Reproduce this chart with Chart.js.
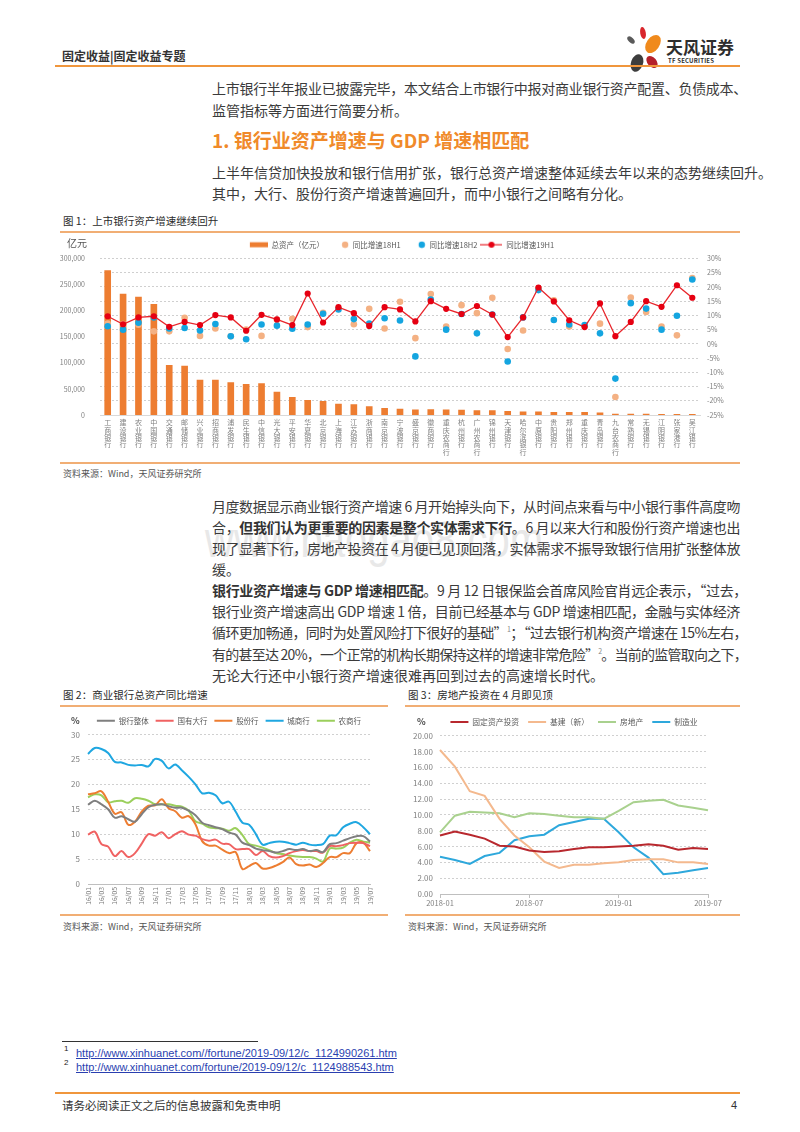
<!DOCTYPE html>
<html lang="zh-CN">
<head>
<meta charset="utf-8">
<title>上市银行资产增速继续回升</title>
<script src="https://cdn.jsdelivr.net/npm/chart.js@4.4.1/dist/chart.umd.min.js"></script>
<style>
  html, body { margin: 0; padding: 0; background: #fff; }
  body { width: 800px; height: 1132px; position: relative; overflow: hidden;
         font-family: "Noto Sans CJK SC", "Noto Sans", sans-serif; color: #333; }
  .t { position: absolute; white-space: nowrap; line-height: 20px; }
  .body { left: 212px; font-size: 14px; color: #3b3b3b; }
  .full { text-align: justify; text-align-last: justify; }
  .body b { color: #333; }
  .rule { position: absolute; }
  .cap { position: absolute; font-size: 10.5px; color: #2b2b2b; line-height: 14px; white-space: nowrap; }
  .src { position: absolute; font-size: 9px; color: #555; line-height: 12px; white-space: nowrap; }
  .box { position: absolute; }
  .unit { position: absolute; font-size: 9px; color: #555; line-height: 12px; }
  sup { font-size: 7px; color: #888; vertical-align: 6px; line-height: 0; }
  .fn { position: absolute; left: 76px; font-family: "Liberation Sans", Arial, sans-serif; font-size: 11px;
        color: #2a3fb0; text-decoration: underline; line-height: 14px; white-space: nowrap; }
  .fnno { position: absolute; left: 64px; font-family: "Liberation Sans", Arial, sans-serif; font-size: 8px; color: #222; }
</style>
</head>
<body>

<!-- 页眉 -->
<div class="t" style="left:62px;top:46px;font-size:12px;font-weight:bold;color:#333;">固定收益|固定收益专题</div>
<svg class="box" style="left:622px;top:24px" width="44" height="52" viewBox="0 0 44 52">
  <ellipse cx="21" cy="9" rx="2.8" ry="6" fill="#d9262c" transform="rotate(-10 21 9)"/>
  <ellipse cx="9" cy="16" rx="2.6" ry="4.5" fill="#5a5a5a" transform="rotate(-45 9 16)"/>
  <ellipse cx="31" cy="20" rx="6.5" ry="10" fill="#f08a1c" transform="rotate(35 31 20)"/>
  <ellipse cx="15" cy="39" rx="6" ry="9" fill="#3d3d3d" transform="rotate(20 15 39)"/>
  <ellipse cx="30" cy="38" rx="4.5" ry="7" fill="#b5202a" transform="rotate(-40 30 38)"/>
</svg>
<div class="t" style="left:666px;top:37px;font-size:17px;font-weight:bold;color:#2e2e2e;">天风证券</div>
<div class="t" style="left:668px;top:51px;font-size:6px;font-weight:bold;color:#2e2e2e;letter-spacing:0.2px;">TF SECURITIES</div>
<div class="rule" style="left:55px;top:65px;width:685px;height:2px;background:#f0963c;"></div>

<!-- 正文 -->
<div class="t body full" style="top:78px;">上市银行半年报业已披露完毕，本文结合上市银行中报对商业银行资产配置、负债成本、</div>
<div class="t body" style="top:100px;">监管指标等方面进行简要分析。</div>
<div class="t" style="left:212px;top:128px;font-size:19px;line-height:24px;font-weight:bold;color:#f08a2a;">1. 银行业资产增速与 GDP 增速相匹配</div>
<div class="t body" style="top:162px;">上半年信贷加快投放和银行信用扩张，银行总资产增速整体延续去年以来的态势继续回升。</div>
<div class="t body" style="top:183px;">其中，大行、股份行资产增速普遍回升，而中小银行之间略有分化。</div>

<!-- 图1 -->
<div class="cap" style="left:63px;top:214px;">图 1：上市银行资产增速继续回升</div>
<div class="rule" style="left:60px;top:231px;width:680px;height:1.5px;background:#f1ae74;"></div>
<div class="box" style="left:60px;top:234px;width:680px;height:228px;"><canvas id="c1" width="680" height="228"></canvas></div>
<div class="unit" style="left:67px;top:237px;font-size:10px;">亿元</div>
<div class="rule" style="left:60px;top:462px;width:680px;height:1.5px;background:#f1ae74;"></div>
<div class="src" style="left:63px;top:468px;">资料来源：Wind，天风证券研究所</div>

<!-- 水印 -->
<div class="t" style="left:205px;top:512px;font-family:'Liberation Sans',sans-serif;font-size:50px;line-height:56px;color:#e8e8e8;transform:scaleX(0.8);transform-origin:left top;">www.baogao8.com</div>

<div class="t body full" style="top:496px;">月度数据显示商业银行资产增速 6 月开始掉头向下，从时间点来看与中小银行事件高度吻</div>
<div class="t body full" style="top:517px;">合，<b>但我们认为更重要的因素是整个实体需求下行</b>。6 月以来大行和股份行资产增速也出</div>
<div class="t body full" style="top:538px;">现了显著下行，房地产投资在 4 月便已见顶回落，实体需求不振导致银行信用扩张整体放</div>
<div class="t body" style="top:559px;">缓。</div>

<div class="t body full" style="top:580px;"><b>银行业资产增速与 GDP 增速相匹配</b>。9 月 12 日银保监会首席风险官肖远企表示，“过去，</div>
<div class="t body full" style="top:601px;">银行业资产增速高出 GDP 增速 1 倍，目前已经基本与 GDP 增速相匹配，金融与实体经济</div>
<div class="t body full" style="top:622px;">循环更加畅通，同时为处置风险打下很好的基础”<sup>1</sup>；“过去银行机构资产增速在 15%左右，</div>
<div class="t body full" style="top:644px;">有的甚至达 20%，一个正常的机构长期保持这样的增速非常危险”<sup>2</sup>。当前的监管取向之下，</div>
<div class="t body" style="top:665px;">无论大行还中小银行资产增速很难再回到过去的高速增长时代。</div>

<!-- 图2 图3 -->
<div class="cap" style="left:63px;top:688px;">图 2：商业银行总资产同比增速</div>
<div class="rule" style="left:60px;top:705px;width:328px;height:1.5px;background:#f1ae74;"></div>
<div class="cap" style="left:408px;top:688px;">图 3：房地产投资在 4 月即见顶</div>
<div class="rule" style="left:405px;top:705px;width:335px;height:1.5px;background:#f1ae74;"></div>

<div class="box" style="left:60px;top:708px;width:330px;height:204px;"><canvas id="c2" width="330" height="204"></canvas></div>
<div class="unit" style="left:71px;top:715px;font-size:9px;font-weight:bold;color:#444;">%</div>
<div class="box" style="left:400px;top:708px;width:340px;height:200px;"><canvas id="c3" width="340" height="200"></canvas></div>
<div class="unit" style="left:417px;top:716px;font-size:9px;font-weight:bold;color:#444;">%</div>

<div class="rule" style="left:60px;top:914px;width:328px;height:1.5px;background:#f1ae74;"></div>
<div class="rule" style="left:405px;top:914px;width:335px;height:1.5px;background:#f1ae74;"></div>
<div class="src" style="left:63px;top:921px;">资料来源：Wind，天风证券研究所</div>
<div class="src" style="left:408px;top:921px;">资料来源：Wind，天风证券研究所</div>

<!-- 脚注 -->
<div class="rule" style="left:62px;top:1041px;width:196px;height:1px;background:#333;"></div>
<div class="fnno" style="top:1044px;">1</div>
<div class="fn" style="top:1046px;">http://www.xinhuanet.com//fortune/2019-09/12/c_1124990261.htm</div>
<div class="fnno" style="top:1058px;">2</div>
<div class="fn" style="top:1060px;">http://www.xinhuanet.com/fortune/2019-09/12/c_1124988543.htm</div>

<!-- 页脚 -->
<div class="rule" style="left:55px;top:1092px;width:685px;height:2px;background:#f0963c;"></div>
<div class="t" style="left:62px;top:1095px;font-size:11.5px;color:#333;">请务必阅读正文之后的信息披露和免责申明</div>
<div class="t" style="left:731px;top:1095px;font-size:11px;color:#333;font-family:'Liberation Sans',sans-serif;">4</div>

<script>
// 两端对齐的整行：超出版心时略收紧字距
document.querySelectorAll('.full').forEach(el => {
  const txt = el.textContent.trim();
  const target = '，、。；'.includes(txt.slice(-1)) ? 535 : 528;
  const natural = el.getBoundingClientRect().width;
  if (natural > target) el.style.letterSpacing = ((target - natural) / txt.length) + 'px';
  el.style.width = target + 'px';
});

// 图1：上市银行总资产与同比增速
const banks = ['工商银行', '建设银行', '农业银行', '中国银行', '交通银行', '邮储银行', '兴业银行', '招商银行',
  '浦发银行', '民生银行', '中信银行', '光大银行', '平安银行', '华夏银行', '北京银行', '上海银行', '江苏银行',
  '浙商银行', '南京银行', '宁波银行', '盛京银行', '徽商银行', '重庆农商行', '杭州银行', '广州农商行', '锦州银行',
  '天津银行', '哈尔滨银行', '中原银行', '贵阳银行', '郑州银行', '重庆银行', '青岛银行', '九台农商行', '常熟银行',
  '无锡银行', '江阴银行', '张家港行', '吴江银行'];
const totalAssets = [277000, 232000, 226000, 212000, 95000, 94000, 67000, 67000, 62000, 59000, 60000, 44000,
  34000, 28000, 26000, 21000, 20000, 16000, 13000, 11500, 10000, 10500, 10000, 9500, 8500, 8500, 6900, 6000,
  6000, 5300, 5300, 4900, 4000, 2000, 1800, 1700, 1300, 1300, 1200];
const growth18H1 = [7.1, 7.0, 6.7, 4.4, 4.4, 9.2, 2.8, 5.4, 2.7, 5.0, 2.8, 8.5, 8.8, 5.9, 10.9, 12.5, 6.9,
  12.3, 5.4, 14.8, 2.0, 17.5, 6.1, 13.6, 10.8, 16.2, -1.8, 4.7, 19.5, 15.3, 6.1, 6.2, 7.1, -18.7, 16.3, 11.2,
  6.1, 3.0, 23.1];
const growth18H2 = [6.2, 5.0, 7.4, 9.3, 5.4, 5.6, 4.7, 7.0, 2.7, 1.6, 6.8, 6.4, 5.3, 6.8, 10.6, 12.1, 8.7,
  7.1, 9.0, 8.2, -4.4, 15.6, 5.0, 10.5, 3.7, 10.3, -6.2, 9.3, 18.9, 8.4, 6.8, 6.6, 3.7, -12.2, 14.3, 12.4,
  5.0, 9.9, 22.6];
const growth19H1 = [9.7, 6.9, 9.3, 9.7, 6.0, 7.7, 6.6, 10.1, 9.3, 4.6, 10.2, 8.6, 6.6, 17.7, 7.5, 12.9, 10.8,
  6.3, 12.9, 12.1, 7.9, 15.0, 12.3, 10.5, 13.3, 10.3, 2.4, 9.3, 19.8, 14.9, 8.3, 5.9, 14.2, 2.7, 7.7, 15.0,
  13.0, 20.6, 16.2];

// 图2：商业银行总资产同比增速（%）
const months2 = ['16/01', '16/02', '16/03', '16/04', '16/05', '16/06', '16/07', '16/08', '16/09', '16/10',
  '16/11', '16/12', '17/01', '17/02', '17/03', '17/04', '17/05', '17/06', '17/07', '17/08', '17/09', '17/10',
  '17/11', '17/12', '18/01', '18/02', '18/03', '18/04', '18/05', '18/06', '18/07', '18/08', '18/09', '18/10',
  '18/11', '18/12', '19/01', '19/02', '19/03', '19/04', '19/05', '19/06', '19/07'];
const bankAll = [15.9, 16.7, 16.0, 15.0, 13.3, 13.6, 13.0, 12.5, 14.0, 15.4, 15.9, 16.0, 15.6, 15.3, 15.3, 14.7,
  13.8, 12.3, 11.8, 11.4, 11.0, 10.3, 9.9, 8.3, 7.8, 7.1, 6.8, 6.6, 6.3, 6.6, 7.0, 6.8, 7.0, 6.6, 6.8, 6.4,
  8.0, 8.2, 8.7, 9.2, 9.6, 9.6, 8.5];
const bigBanks = [9.9, 10.5, 8.0, 7.5, 5.6, 6.6, 5.4, 6.2, 8.1, 10.0, 9.7, 10.4, 9.2, 10.0, 10.6, 9.9, 9.7, 9.0,
  8.7, 8.9, 8.1, 8.0, 7.0, 7.0, 7.0, 5.8, 6.6, 5.6, 5.3, 5.6, 6.2, 6.6, 6.8, 6.6, 6.6, 6.3, 7.6, 7.6, 7.8, 8.2,
  8.3, 8.2, 7.6];
const jointStock = [18.0, 18.2, 18.6, 16.5, 14.1, 14.4, 11.9, 12.5, 14.5, 15.7, 15.8, 17.0, 15.2, 14.6, 13.3,
  13.6, 12.0, 8.6, 7.7, 7.7, 6.9, 6.2, 6.4, 3.0, 3.6, 4.2, 3.1, 3.2, 3.7, 4.4, 5.3, 4.0, 3.7, 3.9, 3.4, 4.2,
  5.4, 5.4, 6.2, 6.2, 8.2, 8.3, 6.6];
const cityBanks = [26.1, 27.3, 27.1, 26.3, 24.5, 24.4, 23.9, 23.8, 23.9, 23.6, 25.1, 24.7, 23.2, 24.0, 22.8,
  21.5, 20.0, 18.2, 18.3, 17.8, 16.2, 16.5, 14.5, 12.3, 11.9, 10.0, 7.9, 8.2, 8.5, 8.5, 8.2, 7.9, 8.3, 7.9,
  7.8, 8.0, 9.7, 9.8, 11.4, 12.1, 12.4, 11.4, 10.0];
const ruralBanks = [17.4, 18.0, 17.8, 16.4, 16.6, 16.7, 16.3, 17.2, 17.1, 16.7, 16.0, 16.0, 16.0, 15.7, 15.5,
  14.7, 12.6, 12.1, 11.4, 11.2, 11.1, 10.7, 11.2, 9.8, 8.0, 7.7, 7.3, 6.8, 6.2, 6.0, 5.7, 5.5, 5.4, 5.4, 5.1,
  4.5, 7.1, 7.1, 7.3, 8.3, 8.9, 8.5, 8.3];

// 图3：投资累计同比（%）
const months3 = ['2018-01', '2018-02', '2018-03', '2018-04', '2018-05', '2018-06', '2018-07', '2018-08',
  '2018-09', '2018-10', '2018-11', '2018-12', '2019-01', '2019-02', '2019-03', '2019-04', '2019-05', '2019-06',
  '2019-07'];
const fixedInvest = [7.4, 7.9, 7.5, 7.0, 6.1, 6.0, 5.5, 5.3, 5.4, 5.7, 5.9, 5.9, 6.0, 6.1, 6.3, 6.1, 5.6, 5.8, 5.7];
const infraNew = [18.2, 16.1, 13.0, 12.4, 9.5, 7.4, 5.9, 4.1, 3.3, 3.7, 3.7, 3.9, 4.0, 4.3, 4.4, 4.4, 4.0, 4.0, 3.8];
const realEstate = [7.8, 9.9, 10.4, 10.3, 10.2, 9.7, 10.2, 10.1, 9.9, 9.7, 9.7, 9.5, 10.5, 11.6, 11.8, 11.9, 11.2, 10.9, 10.6];
const manufacturing = [4.7, 4.3, 3.8, 4.8, 5.2, 6.8, 7.3, 7.5, 8.7, 9.1, 9.5, 9.5, 7.8, 5.9, 4.6, 2.5, 2.7, 3.0, 3.3];

Chart.defaults.font.family = '"Noto Sans CJK SC", "Liberation Sans", sans-serif';
Chart.defaults.color = '#7f7f7f';
Chart.defaults.animation = false;

// 图例小图标
function icon(draw) {
  const c = document.createElement('canvas');
  c.width = 22; c.height = 8;
  draw(c.getContext('2d'));
  return c;
}
function dot(color) {
  return icon(g => { g.fillStyle = color; g.beginPath(); g.arc(18, 4, 3.2, 0, Math.PI * 2); g.fill(); });
}
const legendIcons = [
  icon(g => { g.fillStyle = '#ed7d31'; g.fillRect(4, 1.5, 18, 5); }),
  dot('#f4b183'),
  dot('#14a5e0'),
  icon(g => {
    g.strokeStyle = '#e8262c'; g.lineWidth = 1.2;
    g.beginPath(); g.moveTo(0, 4); g.lineTo(22, 4); g.stroke();
    g.fillStyle = '#e60012'; g.beginPath(); g.arc(11, 4, 3, 0, Math.PI * 2); g.fill();
  })
];

new Chart(document.getElementById('c1'), {
  type: 'bar',
  data: {
    labels: banks.map(b => b.split('')),
    datasets: [
      { label: '总资产（亿元）', data: totalAssets, backgroundColor: '#ed7d31', yAxisID: 'y',
        barThickness: 6, order: 4 },
      { type: 'line', label: '同比增速18H1', data: growth18H1, yAxisID: 'y1', showLine: false,
        pointRadius: 3.3, pointBorderWidth: 0, pointBackgroundColor: '#f4b183', backgroundColor: '#f4b183',
        borderColor: '#f4b183', order: 3 },
      { type: 'line', label: '同比增速18H2', data: growth18H2, yAxisID: 'y1', showLine: false,
        pointRadius: 3.3, pointBorderWidth: 0, pointBackgroundColor: '#14a5e0', backgroundColor: '#14a5e0',
        borderColor: '#14a5e0', order: 2 },
      { type: 'line', label: '同比增速19H1', data: growth19H1, yAxisID: 'y1', borderColor: '#e8262c',
        borderWidth: 1.3, pointRadius: 3.1, pointBorderWidth: 0, pointBackgroundColor: '#e60012',
        backgroundColor: '#e60012', tension: 0, order: 1 }
    ]
  },
  options: {
    responsive: false,
    layout: { padding: { top: 4 } },
    plugins: {
      tooltip: { enabled: false },
      legend: {
        labels: {
          usePointStyle: true, pointStyleWidth: 22, padding: 3, color: '#595959', font: { size: 7.5 },
          generateLabels(chart) {
            const items = Chart.defaults.plugins.legend.labels.generateLabels(chart);
            items.forEach(it => { it.pointStyle = legendIcons[it.datasetIndex]; });
            return items;
          },
          sort: (a, b) => a.datasetIndex - b.datasetIndex
        }
      }
    },
    scales: {
      x: {
        grid: { display: false, drawTicks: false },
        border: { color: '#d9d9d9' },
        ticks: { autoSkip: false, maxRotation: 0, minRotation: 0, padding: 4, color: '#808080',
                 font: { size: 7, lineHeight: 1.05 } },
        afterFit(s) { s.height = 47; }
      },
      y: {
        position: 'left', min: 0, max: 300000,
        grid: { display: false }, border: { display: false },
        ticks: { stepSize: 50000, padding: 7, color: '#808080', font: { size: 7 },
                 callback: v => v.toLocaleString('en-US') },
        afterFit(s) { s.width = 40; }
      },
      y1: {
        position: 'right', min: -25, max: 30,
        grid: { color: '#cfcfcf', drawTicks: false }, border: { display: false, dash: [2, 2] },
        ticks: { stepSize: 5, padding: 7, color: '#808080', font: { size: 7 }, callback: v => v + '%' },
        afterFit(s) { s.width = 40; }
      }
    }
  }
});

function lineSet(label, data, color, tension) {
  return { label, data, borderColor: color, backgroundColor: color, borderWidth: 2, pointRadius: 0, tension };
}

new Chart(document.getElementById('c2'), {
  type: 'line',
  data: {
    labels: months2,
    datasets: [
      lineSet('银行整体', bankAll, '#7f7f7f', 0.35),
      lineSet('国有大行', bigBanks, '#f06262', 0.35),
      lineSet('股份行', jointStock, '#ed7d31', 0.35),
      lineSet('城商行', cityBanks, '#1fa7e1', 0.35),
      lineSet('农商行', ruralBanks, '#9bcf5c', 0.35)
    ]
  },
  options: {
    responsive: false,
    layout: { padding: { top: 2, right: 20 } },
    plugins: {
      tooltip: { enabled: false },
      legend: {
        fullSize: false,
        labels: { usePointStyle: true, pointStyle: 'line', pointStyleWidth: 18, padding: 7,
                  color: '#595959', font: { size: 7.5 } }
      }
    },
    scales: {
      x: {
        grid: { display: false, drawTicks: false }, border: { color: '#bfbfbf' },
        ticks: { autoSkip: false, minRotation: 90, maxRotation: 90, padding: 3, color: '#7f7f7f',
                 font: { size: 6.8 },
                 callback(v, i) { return i % 2 === 0 ? this.getLabelForValue(v) : ''; } },
        afterFit(s) { s.height = 28; }
      },
      y: {
        min: 0, max: 30,
        grid: { color: '#d0d0d0', drawTicks: false }, border: { display: false, dash: [2, 2] },
        ticks: { stepSize: 5, padding: 8, color: '#7f7f7f', font: { size: 8 } },
        afterFit(s) { s.width = 28; }
      }
    }
  }
});

new Chart(document.getElementById('c3'), {
  type: 'line',
  data: {
    labels: months3,
    datasets: [
      lineSet('固定资产投资', fixedInvest, '#b8282e', 0),
      lineSet('基建（新）', infraNew, '#f4b98e', 0),
      lineSet('房地产', realEstate, '#a9d18e', 0),
      lineSet('制造业', manufacturing, '#2ea8dc', 0)
    ]
  },
  options: {
    responsive: false,
    layout: { padding: { top: 1, right: 32 } },
    plugins: {
      tooltip: { enabled: false },
      legend: {
        fullSize: false,
        labels: { usePointStyle: true, pointStyle: 'line', pointStyleWidth: 18, padding: 9,
                  color: '#595959', font: { size: 7.8 } }
      }
    },
    scales: {
      x: {
        offset: false,
        grid: { drawOnChartArea: false, tickLength: 4,
                color: c => (c.index % 6 === 0 ? '#bfbfbf' : 'rgba(0,0,0,0)') },
        border: { color: '#bfbfbf' },
        ticks: { autoSkip: false, maxRotation: 0, minRotation: 0, padding: 1, color: '#7f7f7f',
                 font: { size: 7.5 },
                 callback(v, i) { return i % 6 === 0 ? this.getLabelForValue(v) : ''; } },
        afterFit(s) { s.height = 14; }
      },
      y: {
        min: 0, max: 20,
        grid: { color: '#d0d0d0', drawTicks: false }, border: { display: false, dash: [2, 2] },
        ticks: { stepSize: 2, padding: 7, color: '#7f7f7f', font: { size: 8 }, callback: v => v.toFixed(2) },
        afterFit(s) { s.width = 40; }
      }
    }
  }
});
</script>
</body>
</html>
